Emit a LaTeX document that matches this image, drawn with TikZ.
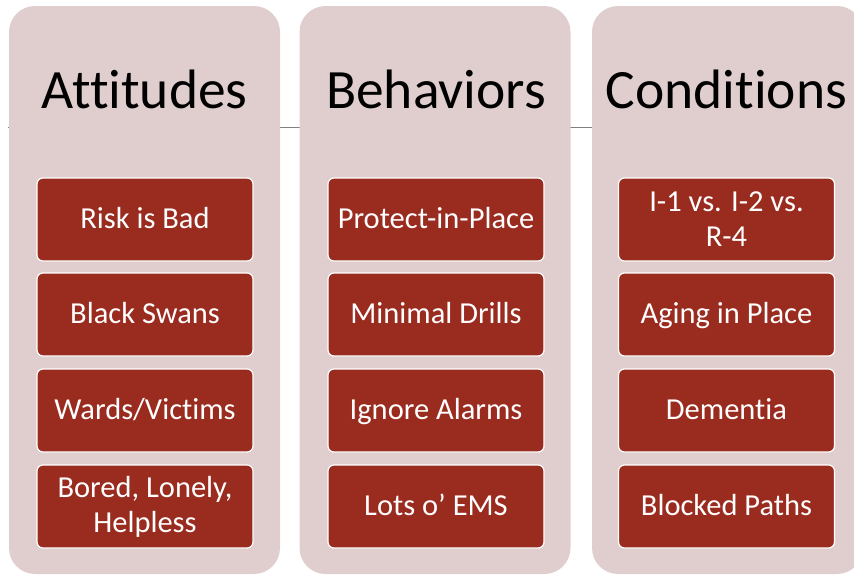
\documentclass[tikz,border=0pt]{standalone}
\usepackage{fontspec}
\setmainfont[Ligatures=NoCommon]{Carlito}
\definecolor{colbg}{HTML}{E0CECE}
\definecolor{itemred}{HTML}{9A2B1F}
\definecolor{rulegrey}{HTML}{808080}
\begin{document}
\begin{tikzpicture}[x=1pt,y=-1pt,
  colbox/.style={fill=colbg,draw=none,rounded corners=26pt,minimum width=271pt,minimum height=568pt,inner sep=0pt},
  titletext/.style={font=\fontsize{55.5}{60}\selectfont,text=black,anchor=base,inner sep=0pt},
  itembox/.style={fill=itemred,draw=white,line width=1.2pt,rounded corners=6pt,minimum width=216pt,minimum height=83pt,text=white,align=center,font=\fontsize{30.5}{35}\selectfont,inner sep=0pt},
  oneline/.style={itembox,text height=21pt,text depth=4pt}]
\useasboundingbox (0,0) rectangle (854,574);
\coordinate (ls) at (8,127);
\coordinate (le) at (854,127);
\draw[rulegrey,line width=1pt] (ls) -- (le);
\node[colbox] (ca) at (144.5,290) {};
\node[colbox] (cb) at (435,290) {};
\node[colbox] (cc) at (727.5,290) {};
\node[titletext] (ta) at (144.5,108) {Attitudes};
\node[titletext] (tb) at (436,108) {Behaviors};
\node[titletext] (tc) at (726.5,108) {Conditions};
\foreach \c/\x in {a/145,b/436,c/726.5}{
  \foreach \i/\y in {1/219.5,2/314.5,3/410.5,4/506.5}{
    \coordinate (p\c\i) at (\x,\y);
  }
}
\node[oneline] (a1) at (pa1) {Risk is Bad};
\node[oneline] (a2) at (pa2) {Black Swans};
\node[oneline] (a3) at (pa3) {Wards/Victims};
\node[itembox] (a4) at (pa4) {Bored, Lonely,\\Helpless};
\node[oneline] (b1) at (pb1) {Protect-in-Place};
\node[oneline] (b2) at (pb2) {Minimal Drills};
\node[oneline] (b3) at (pb3) {Ignore Alarms};
\node[oneline] (b4) at (pb4) {Lots o’ EMS};
\node[itembox] (c1) at (pc1) {I-1 vs. I-2 vs.\\R-4};
\node[oneline] (c2) at (pc2) {Aging in Place};
\node[oneline] (c3) at (pc3) {Dementia};
\node[oneline] (c4) at (pc4) {Blocked Paths};
\end{tikzpicture}
\end{document}
